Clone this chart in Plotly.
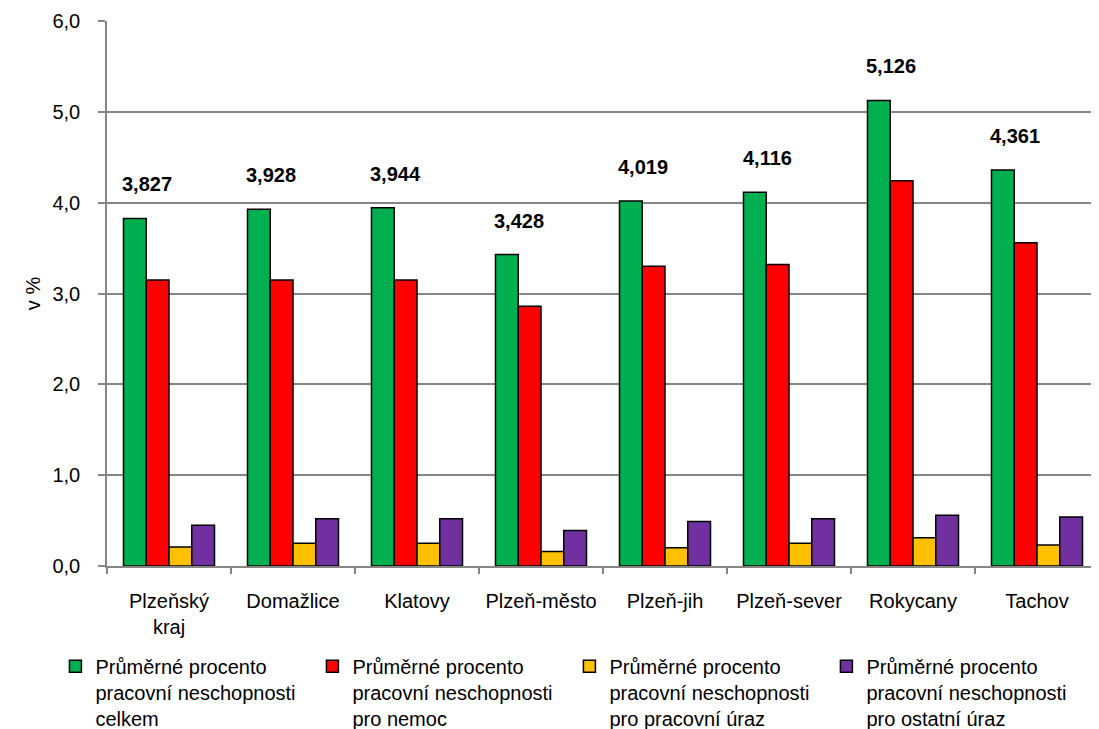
import plotly.graph_objects as go

categories = ["Plzeňský<br>kraj", "Domažlice", "Klatovy", "Plzeň-město", "Plzeň-jih", "Plzeň-sever", "Rokycany", "Tachov"]
celkem = [3.827, 3.928, 3.944, 3.428, 4.019, 4.116, 5.126, 4.361]
nemoc = [3.15, 3.15, 3.15, 2.86, 3.30, 3.32, 4.24, 3.56]
pracovni_uraz = [0.21, 0.25, 0.25, 0.16, 0.20, 0.25, 0.31, 0.23]
ostatni_uraz = [0.45, 0.52, 0.52, 0.39, 0.49, 0.52, 0.56, 0.54]
series_names = [
    "Průměrné procento<br>pracovní neschopnosti<br>celkem",
    "Průměrné procento<br>pracovní neschopnosti<br>pro nemoc",
    "Průměrné procento<br>pracovní neschopnosti<br>pro pracovní úraz",
    "Průměrné procento<br>pracovní neschopnosti<br>pro ostatní úraz",
]
colors = ["#00B050", "#FF0000", "#FFC000", "#7030A0"]
y_ticks = [0, 1, 2, 3, 4, 5, 6]

FONT = "Liberation Sans, Arial, sans-serif"

fig = go.Figure()
for name, vals, col in zip(series_names, [celkem, nemoc, pracovni_uraz, ostatni_uraz], colors):
    fig.add_trace(go.Bar(
        x=categories, y=vals, name=name,
        marker=dict(color=col, line=dict(color="#000000", width=1.5)),
    ))

for c, v in zip(categories, celkem):
    fig.add_annotation(
        x=c, y=v, text="<b>" + f"{v:.3f}".replace(".", ",") + "</b>",
        showarrow=False, xshift=-22, yshift=21, yanchor="bottom",
        font=dict(family=FONT, size=20, color="#000000"),
    )

fig.update_layout(
    width=1091, height=721,
    margin=dict(l=99, r=0, t=13, b=163, autoexpand=False),
    paper_bgcolor="white", plot_bgcolor="white",
    separators=", ",
    barmode="group", bargap=0.266, bargroupgap=0,
    font=dict(family=FONT, size=20, color="#000000"),
    showlegend=True,
    legend=dict(
        orientation="h", x=-0.052, xanchor="left", y=-0.148, yanchor="top",
        xref="paper", yref="paper",
        entrywidth=212, entrywidthmode="pixels",
        font=dict(family=FONT, size=20, color="#000000"),
        traceorder="normal", itemwidth=30,
        tracegroupgap=0, valign="top",
    ),
)
fig.update_yaxes(
    range=[0, 6], tickvals=y_ticks, tickformat=".1f",
    showgrid=True, gridcolor="#868686", gridwidth=1.5,
    showline=True, linecolor="#868686", linewidth=1.5,
    ticks="outside", ticklen=7, tickcolor="#868686", tickwidth=1.5,
    ticklabelstandoff=14, tickfont=dict(family=FONT, size=20),
    title=dict(text="v %", standoff=6, font=dict(family=FONT, size=20)),
    zeroline=False,
)
fig.update_xaxes(
    showline=True, linecolor="#868686", linewidth=2,
    ticks="outside", ticklen=6, tickcolor="#868686", tickwidth=1.5,
    tickson="boundaries", ticklabelstandoff=16, tickangle=0,
    tickfont=dict(family=FONT, size=20),
    showgrid=False,
)
fig.write_html("out.html")
